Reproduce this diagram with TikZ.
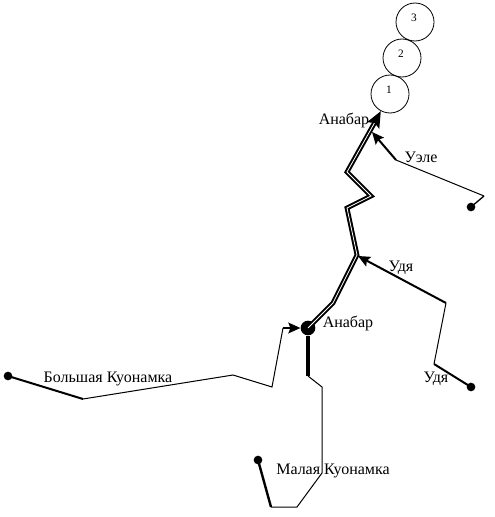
\documentclass[tikz,border=0pt]{standalone}
\usepackage{fontspec}
\setmainfont{Liberation Serif}
\usetikzlibrary{arrows.meta}
\tikzset{
  ozero/.style={circle,draw,line width=0.6pt,inner sep=0pt,minimum size=28.5pt},
  nomer/.style={inner sep=0pt,font=\fontsize{8.5}{10}\selectfont},
  tochka/.style={circle,fill=black,inner sep=0pt,minimum size=6.5pt},
  ustye/.style={circle,fill=black,inner sep=0pt,minimum size=11pt},
  izgib/.style={inner sep=0pt,minimum size=0pt},
  podpis/.style={inner sep=0pt,font=\fontsize{12}{14}\selectfont},
  tonkaya/.style={line width=0.75pt},
  tolstaya/.style={line width=1.5pt},
  strelka/.style={line width=1.5pt,-{Stealth[length=9pt,width=8pt,inset=1.5pt]}},
  glavnaya/.style={line width=1.5pt,double,double distance=0.6pt,line join=miter}
}
\begin{document}
\begin{tikzpicture}[x=0.75pt,y=-0.75pt]
\useasboundingbox (0,0) rectangle (494,517);
% lakes
\node[ozero] (K1) at (390,94) {};
\node[ozero] (K2) at (402,58) {};
\node[ozero] (K3) at (415,22) {};
\node[nomer] (N1) at (389,90) {1};
\node[nomer] (N2) at (401,54) {2};
\node[nomer] (N3) at (414,18) {3};
% main channel
\node[ustye] (U) at (308,328) {};
\node[izgib] (A1) at (333,303) {};
\node[izgib] (A2) at (357,255) {};
\node[izgib] (A3) at (347,208) {};
\node[izgib] (A4) at (371,196) {};
\node[izgib] (A5) at (347,172) {};
\coordinate (A6) at (375,122);
\draw[glavnaya] (U.center) -- (A1.center) -- (A2.center) -- (A3.center) -- (A4.center) -- (A5.center) -- (A6);
\draw[line width=2.4pt,-{Stealth[length=12pt,width=10pt,inset=2pt]}] (A6) -- (K1);
% Uele
\node[tochka] (E0) at (471,207) {};
\node[izgib] (E1) at (484,196) {};
\node[izgib] (E2) at (396,160) {};
\node[izgib] (E3) at (372,132) {};
\draw[line width=1pt] (E0.center) -- (E1.center);
\draw[tonkaya] (E1.center) -- (E2.center);
\draw[strelka] (E2.center) -- (E3.center);
% Udya
\node[tochka] (D0) at (471,387) {};
\node[izgib] (D1) at (434,364) {};
\node[izgib] (D2) at (446,303) {};
\node[izgib] (D3) at (358,256) {};
\draw[tolstaya] (D0.center) -- (D1.center);
\draw[tonkaya] (D1.center) -- (D2.center);
\draw[strelka] (D2.center) -- (D3.center);
% Bolshaya Kuonamka
\node[tochka] (B0) at (8,376) {};
\node[izgib] (B1) at (83,399) {};
\node[izgib] (B2) at (233,375) {};
\node[izgib] (B3) at (272,387) {};
\node[izgib] (B4) at (283,328) {};
\draw[tolstaya] (B0.center) -- (B1.center);
\draw[tonkaya] (B1.center) -- (B2.center) -- (B3.center) -- (B4.center);
\draw[strelka] (B4.center) -- (U);
% Malaya Kuonamka
\node[tochka] (M0) at (258,460) {};
\node[izgib] (M1) at (271,507) {};
\node[izgib] (M2) at (297,507) {};
\node[izgib] (M3) at (322,473) {};
\node[izgib] (M4) at (322,387) {};
\node[izgib] (M5) at (308,376) {};
\draw[line width=1.8pt] (M0.center) -- (M1.center);
\draw[tonkaya] (M1.center) -- (M2.center) -- (M3.center) -- (M4.center) -- (M5.center);
\draw[line width=2.3pt] (M5.center) -- (U);
% labels
\node[podpis] (L1) at (344,120) {Анабар};
\node[podpis] (L2) at (421,157) {Уэле};
\node[podpis] (L3) at (401,268) {Удя};
\node[podpis] (L4) at (348,323) {Анабар};
\node[podpis] (L5) at (436,379) {Удя};
\node[podpis] (L6) at (108,379) {Большая Куонамка};
\node[podpis] (L7) at (333,471) {Малая Куонамка};
\end{tikzpicture}
\end{document}
